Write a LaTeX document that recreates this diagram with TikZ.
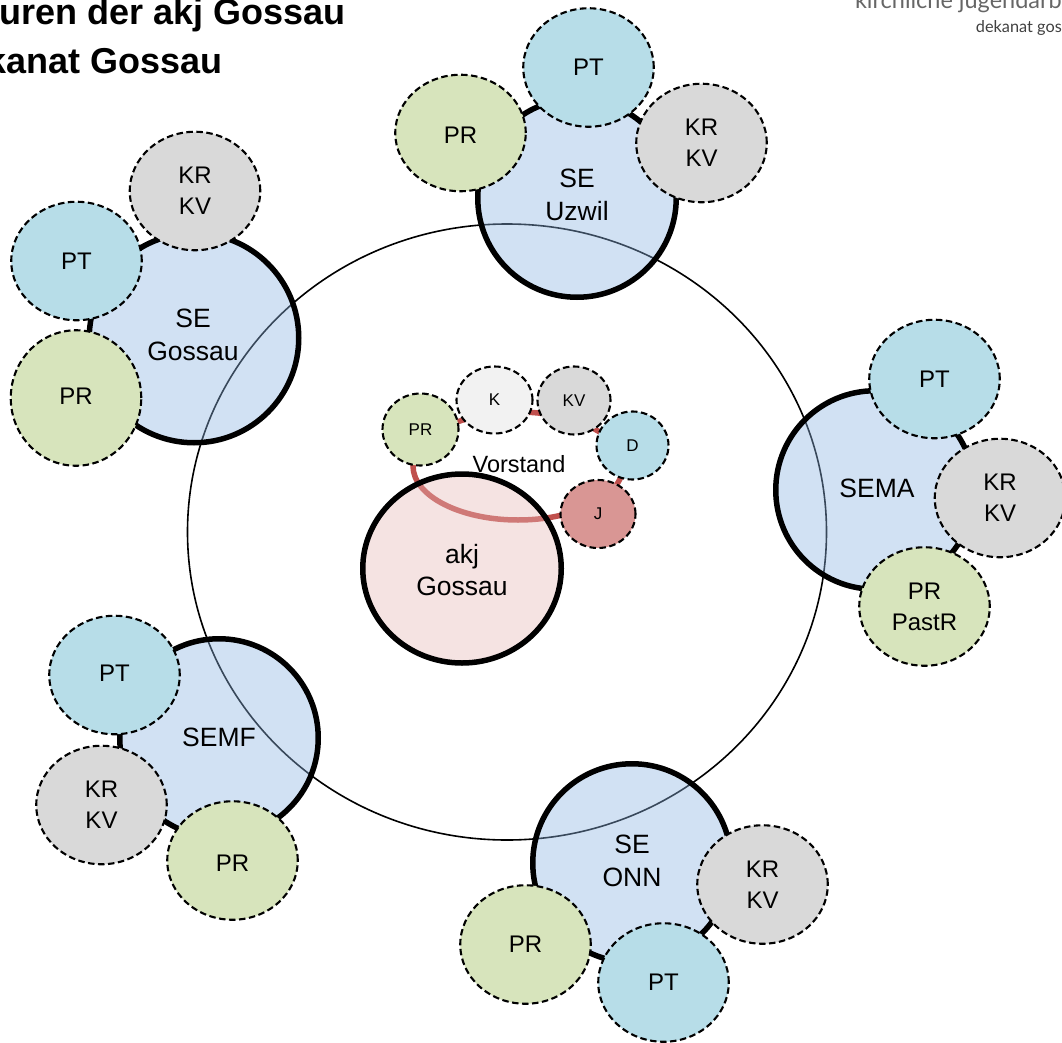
\documentclass[tikz,border=0pt]{standalone}
\usepackage{fontspec}
\setmainfont{Liberation Sans}
\newfontfamily\logofont{Lato}
\usetikzlibrary{shapes.geometric}
\definecolor{ptc}{HTML}{B7DDE8}
\definecolor{prc}{HTML}{D7E4BC}
\definecolor{krc}{HTML}{D9D9D9}
\definecolor{kc}{HTML}{F2F2F2}
\definecolor{jc}{HTML}{D99694}
\definecolor{sec}{HTML}{8DB4E2}
\definecolor{akjc}{HTML}{E6B8B7}
\definecolor{ringc}{HTML}{C0504D}
\newcommand{\up}[1]{\raisebox{0pt}[13.2pt][0pt]{#1}}
\newcommand{\dn}[1]{\raisebox{0pt}[21.2pt][0pt]{#1}}
\tikzset{
  x=1pt,y=-1pt,
  blob/.style={ellipse,inner sep=0pt,align=center,text=black,draw=black,line width=2.1pt,dash pattern=on 6.5pt off 3.5pt,font=\fontsize{24}{31}\selectfont},
  small/.style={blob,font=\fontsize{17}{20}\selectfont},
  pt/.style={blob,fill=ptc,minimum width=130.5pt,minimum height=118.5pt},
  pr/.style={blob,fill=prc,minimum width=130.5pt,minimum height=118.5pt},
  kr/.style={blob,fill=krc,minimum width=130.5pt,minimum height=118.5pt},
  se/.style={circle,inner sep=0pt,minimum size=198.5pt,draw=black,line width=5.5pt,fill=sec,fill opacity=.4,draw opacity=1},
  lab/.style={align=center,inner sep=0pt,font=\fontsize{26.5}{33.5}\selectfont},
  title/.style={anchor=base east,inner sep=0pt,font=\fontsize{36}{40}\bfseries\selectfont},
}
\begin{document}
\begin{tikzpicture}
\useasboundingbox (0,0) rectangle (1062,1043);
\clip (0,0) rectangle (1062,1043);
% big ring
\node[ellipse,draw=black,line width=1.6pt,minimum width=639pt,minimum height=616pt,inner sep=0pt] (ring) at (507,532) {};
% Title and logo
\node[title] (t1) at (346,25) {uren der akj Gossau};
\node[title] (t2) at (223,74) {kanat Gossau};
\node[anchor=base east,inner sep=0pt,text=black!60,font=\fontsize{23.5}{25}\logofont\selectfont] (l1) at (1062,9) {kirchliche jugendarb};
\node[anchor=base east,inner sep=0pt,text=black!75,font=\fontsize{16.3}{17}\logofont\selectfont] (l2) at (1062,33) {dekanat gos};
% SE Uzwil
\node[se] (s1) at (577,198) {};
\node[lab] (s1t) at (577,195) {SE\\Uzwil};
\node[pr,minimum height=116.5pt] (s1a) at (460.5,133) {\dn{PR}};
\node[pt] (s1b) at (588.5,67.5) {PT};
\node[kr] (s1c) at (701.5,143) {KR\\KV};
% SE Gossau
\node[se,minimum size=209.5pt] (s2) at (194,338) {};
\node[lab] (s2t) at (193,335) {SE\\Gossau};
\node[kr] (s2a) at (195,191) {KR\\KV};
\node[pt] (s2b) at (76.5,261) {PT};
\node[pr,minimum height=135.5pt] (s2c) at (76,398) {\up{PR}};
% SEMA
\node[se] (s3) at (875,490) {};
\node[lab] (s3t) at (877,488) {SEMA};
\node[pt] (s3a) at (934.5,379) {PT};
\node[kr] (s3b) at (1000,498) {KR\\KV};
\node[pr] (s3c) at (924.5,606.5) {PR\\PastR};
% SEMF
\node[se] (s4) at (219,738) {};
\node[lab] (s4t) at (219,737) {SEMF};
\node[pt] (s4a) at (114.5,675) {\up{PT}};
\node[kr] (s4b) at (101.5,805) {KR\\KV};
\node[pr] (s4c) at (232.5,860.5) {\dn{PR}};
% SE ONN
\node[se] (s5) at (632,863) {};
\node[lab] (s5t) at (632,861) {SE\\ONN};
\node[kr] (s5a) at (762.5,884.5) {KR\\KV};
\node[pr] (s5b) at (525.5,944.5) {PR};
\node[pt] (s5c) at (663.5,982.5) {PT};
% Vorstand
\node[ellipse,draw=ringc,line width=5.5pt,minimum width=210pt,minimum height=108pt,inner sep=0pt] (vring) at (518,466) {};
\node[lab,font=\fontsize{23.5}{26}\selectfont] (vt) at (519,464) {Vorstand};
\node[se,ellipse,fill=akjc,minimum width=198.5pt,minimum height=189pt] (akj) at (462,568.5) {};
\node[lab,font=\fontsize{26.5}{31.5}\selectfont] (akjt) at (462,570) {akj\\Gossau};
\node[small,fill=prc,minimum width=76pt,minimum height=72pt] (vpr) at (420.5,429.5) {PR};
\node[small,fill=kc,minimum width=76pt,minimum height=67pt] (vk) at (494.5,400) {K};
\node[small,fill=krc,minimum width=73pt,minimum height=68pt] (vkv) at (574,400.5) {KV};
\node[small,fill=ptc,minimum width=72pt,minimum height=68pt] (vd) at (632.5,445.5) {D};
\node[small,fill=jc,minimum width=75pt,minimum height=68pt] (vj) at (598,514) {J};
\end{tikzpicture}
\end{document}
